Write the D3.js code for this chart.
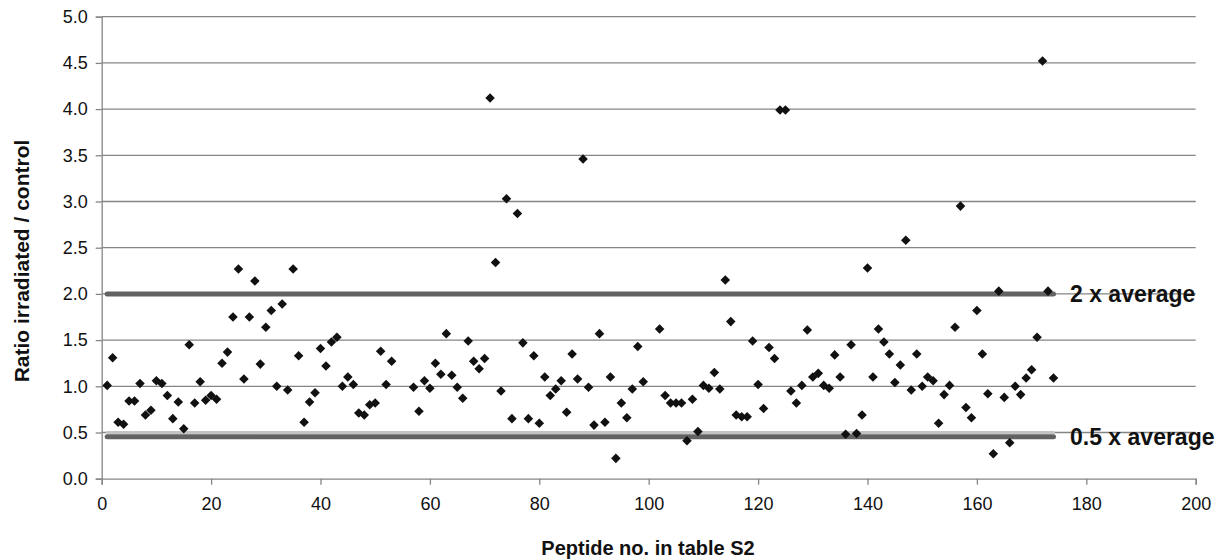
<!DOCTYPE html>
<html>
<head>
<meta charset="utf-8">
<script src="https://cdn.jsdelivr.net/npm/d3@7"></script>
<style>
  body { margin: 0; background: #fff; }
  svg { display: block; font-family: "Liberation Sans", Arial, sans-serif; }
</style>
</head>
<body>
<svg id="chart" width="1224" height="559"></svg>
<script>
// peptide numbers (54-56 and 100-101 have no value in the plot)
var peptideNo = [
  1, 2, 3, 4, 5, 6, 7, 8, 9, 10, 11, 12, 13, 14, 15, 16, 17, 18, 19, 20,
  21, 22, 23, 24, 25, 26, 27, 28, 29, 30, 31, 32, 33, 34, 35, 36, 37, 38, 39, 40,
  41, 42, 43, 44, 45, 46, 47, 48, 49, 50, 51, 52, 53, 57, 58, 59, 60,
  61, 62, 63, 64, 65, 66, 67, 68, 69, 70, 71, 72, 73, 74, 75, 76, 77, 78, 79, 80,
  81, 82, 83, 84, 85, 86, 87, 88, 89, 90, 91, 92, 93, 94, 95, 96, 97, 98, 99,
  102, 103, 104, 105, 106, 107, 108, 109, 110, 111, 112, 113, 114, 115, 116, 117, 118, 119, 120,
  121, 122, 123, 124, 125, 126, 127, 128, 129, 130, 131, 132, 133, 134, 135, 136, 137, 138, 139, 140,
  141, 142, 143, 144, 145, 146, 147, 148, 149, 150, 151, 152, 153, 154, 155, 156, 157, 158, 159, 160,
  161, 162, 163, 164, 165, 166, 167, 168, 169, 170, 171, 172, 173, 174
];
var ratio = [
  1.01, 1.31, 0.61, 0.59, 0.84, 0.84, 1.03, 0.69, 0.74, 1.06, 1.03, 0.90, 0.65, 0.83, 0.54, 1.45, 0.82, 1.05, 0.85, 0.90,
  0.86, 1.25, 1.37, 1.75, 2.27, 1.08, 1.75, 2.14, 1.24, 1.64, 1.82, 1.00, 1.89, 0.96, 2.27, 1.33, 0.61, 0.83, 0.93, 1.41,
  1.22, 1.48, 1.53, 1.00, 1.10, 1.02, 0.71, 0.69, 0.80, 0.82, 1.38, 1.02, 1.27, 0.99, 0.73, 1.06, 0.98,
  1.25, 1.13, 1.57, 1.12, 0.99, 0.87, 1.49, 1.27, 1.19, 1.30, 4.12, 2.34, 0.95, 3.03, 0.65, 2.87, 1.47, 0.65, 1.33, 0.60,
  1.10, 0.90, 0.97, 1.06, 0.72, 1.35, 1.08, 3.46, 0.99, 0.58, 1.57, 0.61, 1.10, 0.22, 0.82, 0.66, 0.97, 1.43, 1.05,
  1.62, 0.90, 0.82, 0.82, 0.82, 0.41, 0.86, 0.51, 1.01, 0.98, 1.15, 0.97, 2.15, 1.70, 0.69, 0.67, 0.67, 1.49, 1.02,
  0.76, 1.42, 1.30, 3.99, 3.99, 0.95, 0.82, 1.01, 1.61, 1.10, 1.14, 1.01, 0.98, 1.34, 1.10, 0.48, 1.45, 0.49, 0.69, 2.28,
  1.10, 1.62, 1.48, 1.35, 1.04, 1.23, 2.58, 0.96, 1.35, 1.00, 1.10, 1.06, 0.60, 0.91, 1.01, 1.64, 2.95, 0.77, 0.66, 1.82,
  1.35, 0.92, 0.27, 2.03, 0.88, 0.39, 1.00, 0.91, 1.09, 1.18, 1.53, 4.52, 2.03, 1.09
];
var xTicks = [0, 20, 40, 60, 80, 100, 120, 140, 160, 180, 200];
var yTicks = [0, 0.5, 1, 1.5, 2, 2.5, 3, 3.5, 4, 4.5, 5];
// threshold lines: label, value, first and last peptide
var refLabels = ["2 x average", "0.5 x average"];
var refValues = [2.0, 0.455];
var refRange = [1, 174];

var svg = d3.select("#chart");
var x = d3.scaleLinear().domain([0, 200]).range([101.7, 1195.7]);
var y = d3.scaleLinear().domain([0, 5]).range([478.7, 16.7]);

// horizontal gridlines
svg.append("g")
  .selectAll("line")
  .data(yTicks.slice(1))
  .join("line")
  .attr("x1", x(0)).attr("x2", x(200))
  .attr("y1", d => y(d)).attr("y2", d => y(d))
  .attr("stroke", "#858585")
  .attr("stroke-width", 1.3);

// y axis
var yAxis = svg.append("g")
  .attr("transform", `translate(${x(0)},0)`)
  .call(d3.axisLeft(y).tickValues(yTicks).tickFormat(d3.format(".1f")).tickSize(6).tickPadding(8));
// x axis
var xAxis = svg.append("g")
  .attr("transform", `translate(0,${y(0)})`)
  .call(d3.axisBottom(x).tickValues(xTicks).tickSize(6).tickPadding(13));

[xAxis, yAxis].forEach(function (ax) {
  ax.select(".domain").attr("stroke", "#858585").attr("stroke-width", 1.3);
  ax.selectAll(".tick line").attr("stroke", "#858585").attr("stroke-width", 1.3);
  ax.selectAll(".tick text")
    .attr("fill", "#111")
    .style("font-size", "18px")
    .style("font-family", "'Liberation Sans', Arial, sans-serif");
});

// light band under the 0.5 x average line
svg.append("line")
  .attr("x1", x(refRange[0])).attr("x2", x(refRange[1]))
  .attr("y1", y(0.5)).attr("y2", y(0.5))
  .attr("stroke", "#c4c4c4")
  .attr("stroke-width", 3)
  .attr("stroke-linecap", "round");

// threshold lines
svg.append("g")
  .selectAll("line")
  .data(refValues)
  .join("line")
  .attr("x1", x(refRange[0])).attr("x2", x(refRange[1]))
  .attr("y1", d => y(d)).attr("y2", d => y(d))
  .attr("stroke", "#626262")
  .attr("stroke-width", 5)
  .attr("stroke-linecap", "round");

// points
var diamond = d3.symbol().type(d3.symbolDiamond2).size(58);
svg.append("g")
  .selectAll("path")
  .data(peptideNo)
  .join("path")
  .attr("transform", (d, i) => `translate(${x(d)},${y(ratio[i])})`)
  .attr("d", diamond)
  .attr("fill", "#111");

// threshold labels
svg.append("g")
  .selectAll("text")
  .data(refLabels)
  .join("text")
  .attr("x", 1070)
  .attr("y", (d, i) => y(refValues[i]) + 8)
  .attr("fill", "#111")
  .style("font-size", "23px")
  .style("font-weight", "bold")
  .text(d => d);

// axis titles
svg.append("text")
  .attr("x", 648).attr("y", 555)
  .attr("text-anchor", "middle")
  .attr("fill", "#111")
  .style("font-size", "20px")
  .style("font-weight", "bold")
  .text("Peptide no. in table S2");

svg.append("text")
  .attr("transform", "translate(29,261) rotate(-90)")
  .attr("text-anchor", "middle")
  .attr("fill", "#111")
  .style("font-size", "21px")
  .style("font-weight", "bold")
  .text("Ratio irradiated / control");
</script>
</body>
</html>
